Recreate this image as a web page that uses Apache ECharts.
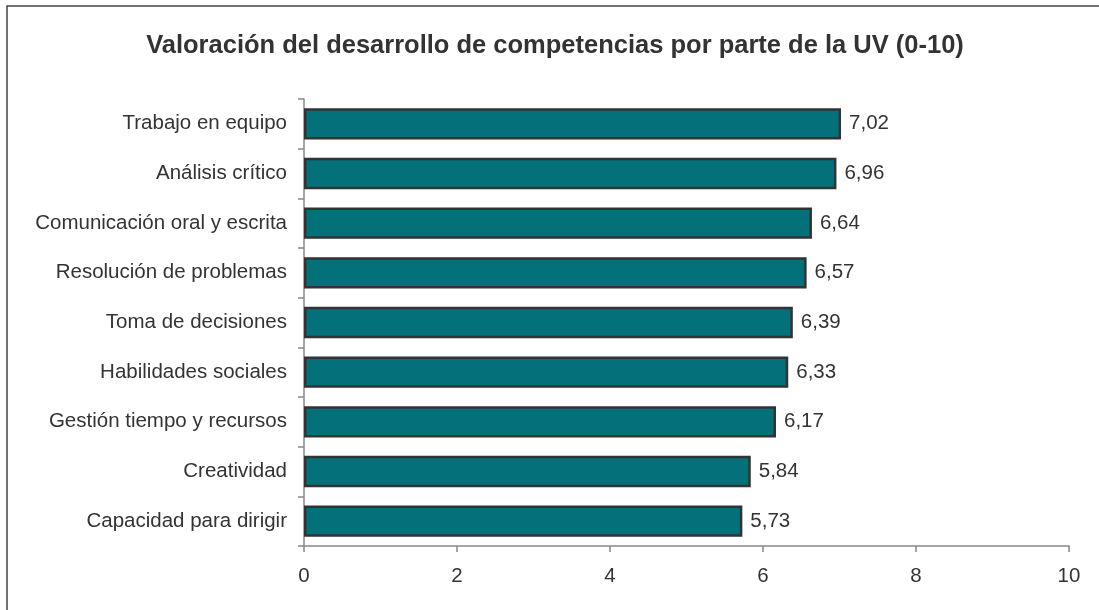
<!DOCTYPE html>
<html>
<head>
<meta charset="utf-8">
<script src="https://cdn.jsdelivr.net/npm/echarts@6/dist/echarts.min.js"></script>
<style>
  html, body { margin: 0; padding: 0; background: #fff; overflow: hidden; }
  #chart { width: 1099px; height: 610px; }
</style>
</head>
<body>
<div id="chart"></div>
<script>
// competencias, de arriba a abajo
const categories = [
  'Trabajo en equipo',
  'Análisis crítico',
  'Comunicación oral y escrita',
  'Resolución de problemas',
  'Toma de decisiones',
  'Habilidades sociales',
  'Gestión tiempo y recursos',
  'Creatividad',
  'Capacidad para dirigir'
]
const values = [7.02, 6.96, 6.64, 6.57, 6.39, 6.33, 6.17, 5.84, 5.73]
const xTicks = [0, 2, 4, 6, 8, 10]

const chart = echarts.init(document.getElementById('chart'))
const font = 'Liberation Sans, Arial, sans-serif'

const option = {
  animation: false,
  textStyle: { fontFamily: font },
  title: {
    text: 'Valoración del desarrollo de competencias por parte de la UV (0-10)',
    left: 550,
    textAlign: 'center',
    top: 28,
    textStyle: { fontSize: 25.5, fontWeight: 'bold', color: '#333', fontFamily: font }
  },
  graphic: [
    {
      type: 'rect',
      shape: { x: 7, y: 6, width: 1200, height: 700 },
      style: { fill: 'none', stroke: '#444', lineWidth: 1.5 },
      silent: true
    }
  ],
  grid: { left: 304, right: 30, top: 99, bottom: 64 },
  xAxis: {
    type: 'value',
    min: xTicks[0],
    max: xTicks[xTicks.length - 1],
    interval: 2,
    splitLine: { show: false },
    axisLine: { show: true, lineStyle: { color: '#888', width: 1.5 } },
    axisTick: { show: true, length: 6, lineStyle: { color: '#888', width: 1.5 } },
    axisLabel: { fontSize: 20.5, color: '#333', margin: 20 }
  },
  yAxis: {
    type: 'category',
    inverse: true,
    data: categories,
    axisLine: { show: true, lineStyle: { color: '#888', width: 1.5 } },
    axisTick: { show: true, length: 6, lineStyle: { color: '#888', width: 1.5 } },
    axisLabel: { fontSize: 20.5, color: '#333', margin: 17 }
  },
  series: [
    {
      type: 'bar',
      data: values,
      barCategoryGap: '37%',
      itemStyle: { color: '#03707a', borderColor: '#333', borderWidth: 2.5 },
      label: {
        show: true,
        position: 'right',
        distance: 8,
        fontSize: 20.5,
        color: '#333',
        formatter: p => p.value.toFixed(2).replace('.', ',')
      }
    }
  ]
}

chart.setOption(option)
</script>
</body>
</html>
